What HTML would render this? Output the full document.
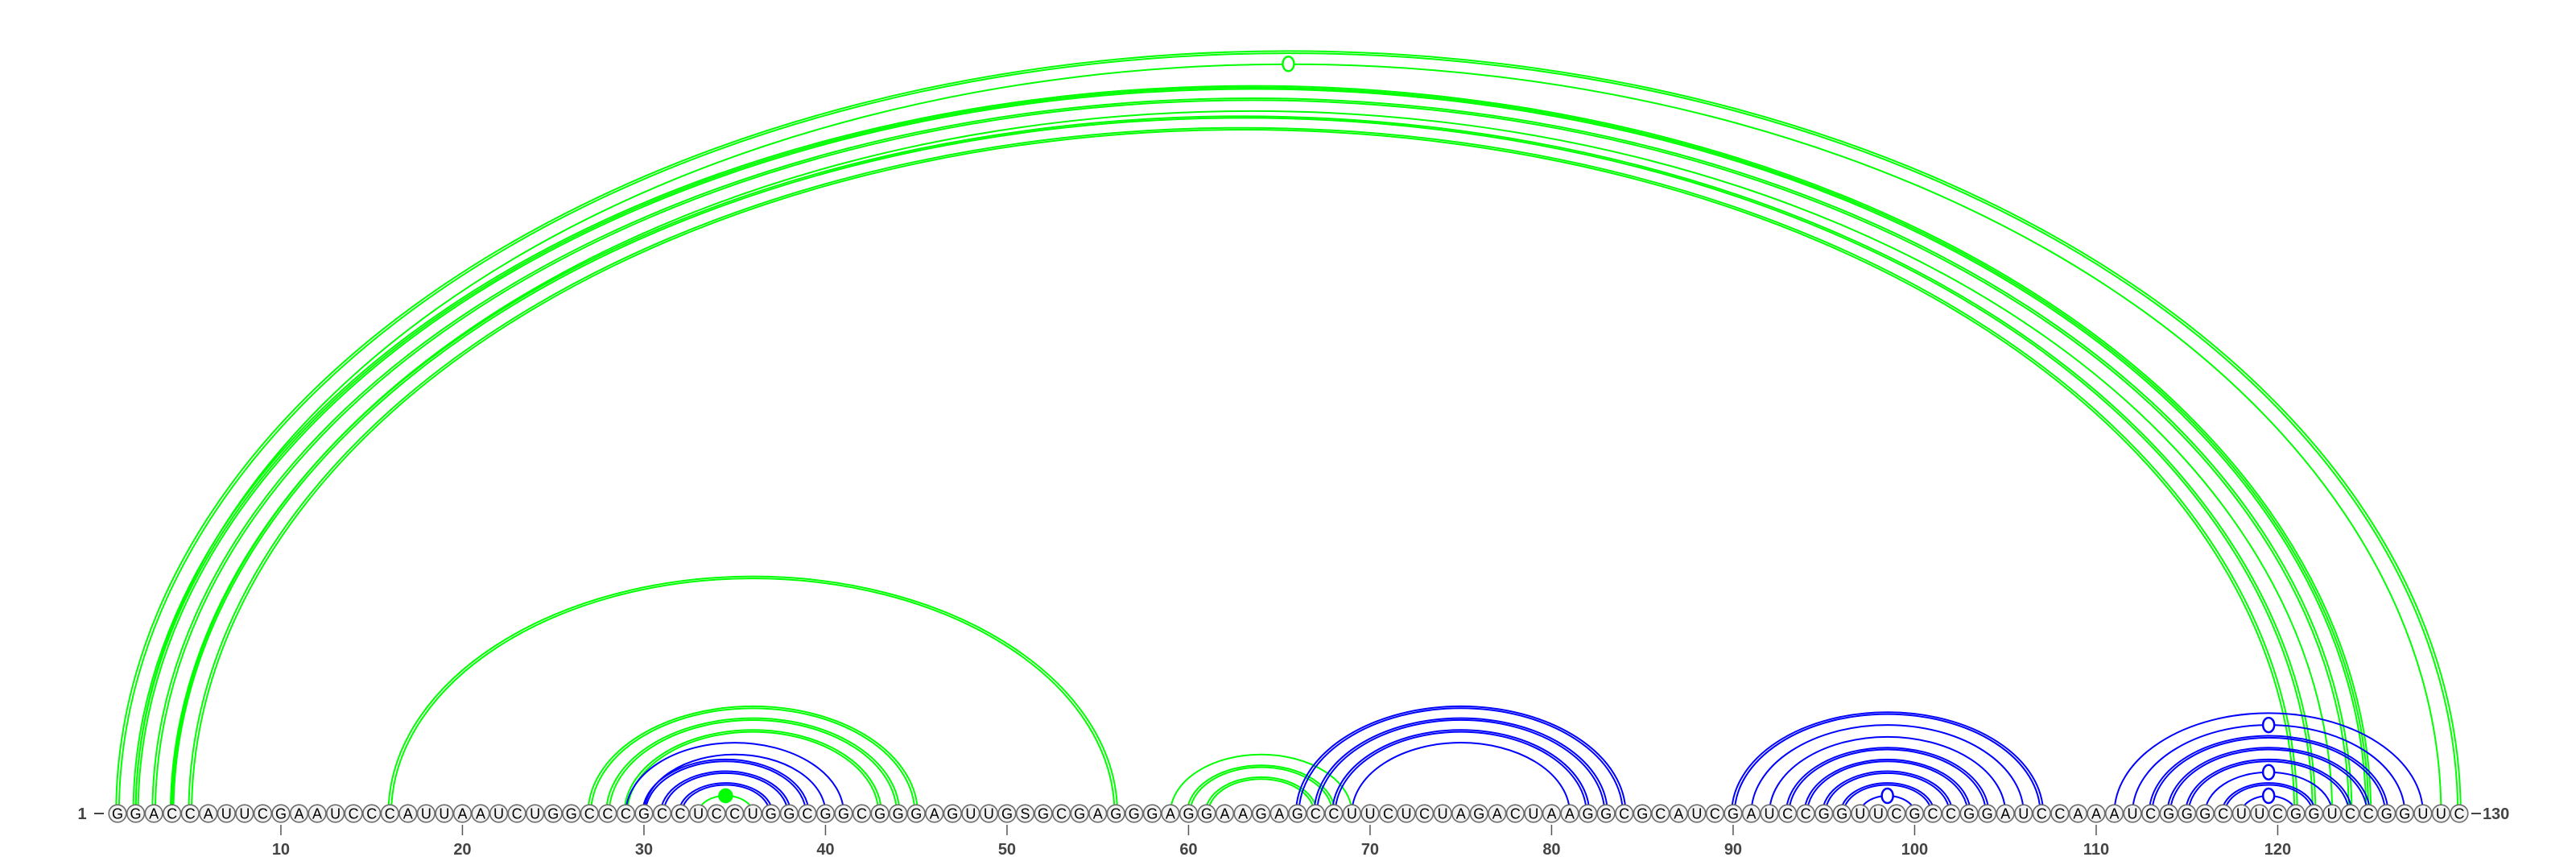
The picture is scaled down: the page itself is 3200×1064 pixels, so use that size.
<!DOCTYPE html>
<html><head><meta charset="utf-8"><style>
html,body{margin:0;padding:0;background:#fff;}
svg{display:block;}
</style></head><body>
<svg id="chart" width="3200" height="1064" viewBox="0 0 3200 1064" xmlns="http://www.w3.org/2000/svg">
<g id="arcs"></g>
<g id="nts"></g>
<g id="ticks"></g>
</svg>
<script>
const sequence = "GGACCAUUCGAAUCCCAUUAAUCUGGCCCGCCUCCUGGCGGCGGGAGUUGSGCGAGGGAGGAAGAGCCUUCUCUAGACUAAGGCGCAUCGAUCCGGUUCGCCGGAUCCAAAUCGGGCUUCGGUCCGGUUC";
const tickPositions = [10,20,30,40,50,60,70,80,90,100,110,120];
// [i, j, multiplicity, marker]
const greenArcs = [[1,130,2,""],[2,129,1,"open"],[2,125,3,""],[3,124,2,""],[4,123,1,""],[4,122,2,""],[5,121,2,""],
  [16,56,2,""],[27,45,2,""],[28,44,2,""],[29,43,2,""],[33,36,1,"filled"],
  [59,69,1,""],[60,68,2,""],[61,67,2,""]];
const blueArcs = [[32,37,2,""],[31,38,2,""],[30,39,2,""],[30,40,1,""],[29,41,1,""],
  [66,84,2,""],[67,83,2,""],[68,82,2,""],[69,81,1,""],
  [90,107,2,""],[91,106,1,""],[92,105,1,""],[93,104,2,""],[94,103,2,""],[95,102,2,""],[96,101,2,""],[97,100,1,"open"],
  [111,128,1,""],[112,127,1,"open"],[113,126,2,""],[114,125,2,""],[115,124,2,""],[116,123,1,"open"],[117,122,2,""],[118,121,1,"open"]];

const NS="http://www.w3.org/2000/svg";
const X0=146, STEP=22.55, BASE=1010, RATIO=0.65;
const xOf = i => X0+(i-1)*STEP;
function mk(tag, attrs, parent){const e=document.createElementNS(NS,tag);for(const k in attrs)e.setAttribute(k,attrs[k]);parent.appendChild(e);return e;}
const arcsG=document.getElementById('arcs');
function drawArcs(list,color,name){
  list.forEach(a=>{
    const [i,j,m,marker]=a;
    const xi=xOf(i), xj=xOf(j);
    const offs = m===1?[0]:(m===2?[-1.8,1.8]:[-3,0,3]);
    offs.forEach(d=>{
      const rx=(xj-xi)/2+d, ry=rx*RATIO;
      const p=mk('path',{d:`M${xi-d},${BASE} A${rx},${ry} 0 0 1 ${xj+d},${BASE}`,fill:'none',stroke:color,'stroke-width':2},arcsG);
      
      
    });
    if(marker){
      const rx=(xj-xi)/2, cx=(xi+xj)/2, cy=BASE-rx*RATIO;
      const c=mk('ellipse',{cx:cx,cy:cy,rx:marker==='filled'?8:7,ry:marker==='filled'?8:9,fill:marker==='filled'?color:'#fff',stroke:color,'stroke-width':2.5},arcsG);
      
      
    }
  });
}
drawArcs(greenArcs,'#00ff00','green');
drawArcs(blueArcs,'#0000ff','blue');

const ntG=document.getElementById('nts');
for(let k=0;k<sequence.length;k++){
  const x=xOf(k+1);
  const c=mk('circle',{cx:x,cy:BASE,r:10.8,fill:'#f2f2f2',stroke:'#6a6a6a','stroke-width':1.6},ntG);
  
  
  const t=mk('text',{x:x,y:BASE+6.5,'text-anchor':'middle','font-family':'Liberation Sans, DejaVu Sans, sans-serif','font-size':18,fill:'#000'},ntG);
  t.textContent=sequence[k];
  
  
}
const tG=document.getElementById('ticks');
const s1=mk('text',{x:102,y:BASE+7,'text-anchor':'middle','font-family':'Liberation Sans, sans-serif','font-size':20,'font-weight':'bold',fill:'#444'},tG);
s1.textContent='1';


const d1=mk('line',{x1:117,x2:129,y1:BASE,y2:BASE,stroke:'#444','stroke-width':2},tG);


const xe=xOf(sequence.length);
const d2=mk('line',{x1:xe+15,x2:xe+27,y1:BASE,y2:BASE,stroke:'#444','stroke-width':2},tG);


const s2=mk('text',{x:xe+29,y:BASE+7,'font-family':'Liberation Sans, sans-serif','font-size':20,'font-weight':'bold',fill:'#444'},tG);
s2.textContent=String(sequence.length);


tickPositions.forEach(p=>{
  const x=xOf(p);
  const l=mk('line',{x1:x,x2:x,y1:1024,y2:1037,stroke:'#555','stroke-width':1.5},tG);
  
  
  const t=mk('text',{x:x,y:1061,'text-anchor':'middle','font-family':'Liberation Sans, sans-serif','font-size':20,'font-weight':'bold',fill:'#444'},tG);
  t.textContent=String(p);
  
  
});
</script>
</body></html>
